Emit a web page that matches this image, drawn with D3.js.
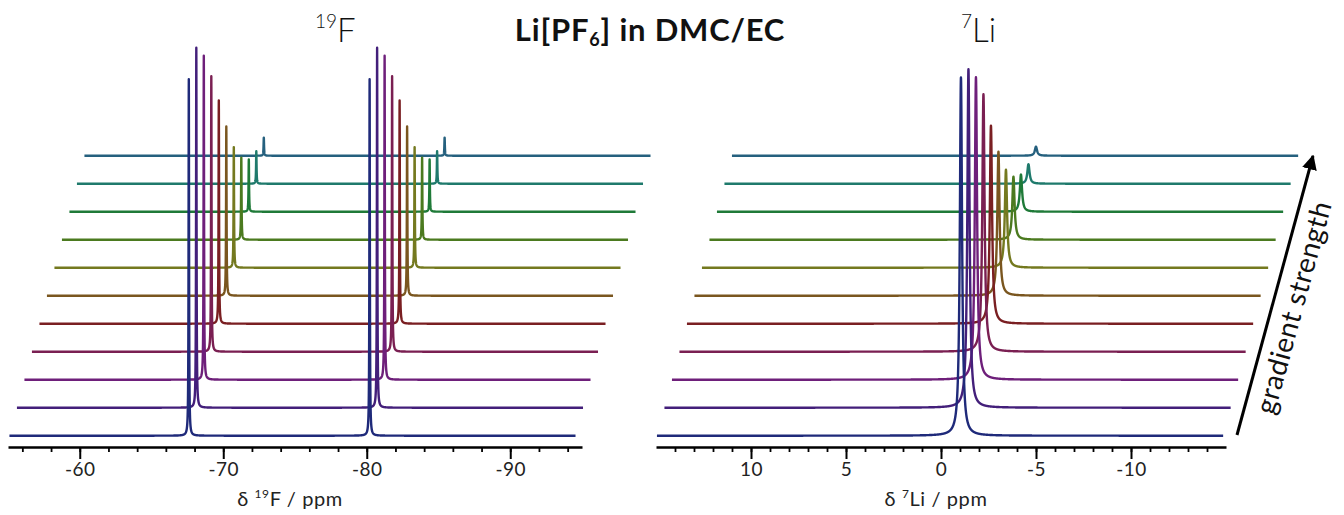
<!DOCTYPE html>
<html>
<head>
<meta charset="utf-8">
<script src="https://cdn.jsdelivr.net/npm/d3@7"></script>
<style>
body{margin:0;background:#fff;}
svg{display:block;font-family:Lato,"Noto Sans",sans-serif;}
</style>
</head>
<body>
<svg id="chart" width="1344" height="515"></svg>
<script>
// one trace per gradient step, weakest gradient at the bottom
const traceColors = ['#1f2a7a', '#431f7a', '#6e1f7a', '#7a1f52', '#7a1f22', '#7a561f',
                     '#74791f', '#4b7a1f', '#1f7a38', '#1f7a6c', '#25607e'];

// 19F: two lines, relative intensity for each gradient step
const fShifts = [-67.6, -80.2];
const fIntensity = [0.99, 1.00, 0.90, 0.765, 0.62, 0.47, 0.335, 0.228, 0.145, 0.09, 0.05];
const fRange = [-55.1, -94.55];
const fMajorTicks = [-60, -70, -80, -90];

// 7Li: one line
const liShifts = [-1.05];
const liIntensity = [0.995, 0.94, 0.84, 0.715, 0.55, 0.40, 0.272, 0.175, 0.103, 0.054, 0.025];
const liRange = [14.95, -14.85];
const liMajorTicks = [10, 5, 0, -5, -10];

const svg = d3.select('#chart');

const dx = 7.5, dy = 28;     // offset between stacked traces
const base = 435.7;          // baseline of the first trace
const axisY = 447;

let y = d3.scaleLinear().domain([0, 1]).range([0, 360]);

// lorentzian line built from the listed shifts and intensities
function spectrum(range, shifts, amp, hw, step){
    let pts = [];
    for(let v = range[0]; v >= range[1]; v -= step){
        let s = 0;
        shifts.forEach(c => { s += amp / (1 + ((v - c) / hw) ** 2); });
        pts.push([v, s]);
    }
    return pts;
}

function drawPanel(opt){
    let x = d3.scaleLinear().domain(opt.domain).range(opt.px);
    let line = d3.line()
                 .x(d => x(d[0]))
                 .y(d => base - y(d[1]));

    let g = svg.append('g');
    // draw top trace first so the lower ones sit on top
    let idx = d3.range(opt.intensity.length).reverse();
    idx.forEach(k => {
        g.append('path')
         .attr('d', line(spectrum(opt.range, opt.shifts, opt.intensity[k], opt.hw, opt.step)))
         .attr('transform', 'translate(' + (k * dx) + ',' + (-k * dy) + ')')
         .attr('fill', 'none')
         .attr('stroke', traceColors[k])
         .attr('stroke-width', 2.4)
         .attr('stroke-linejoin', 'round');
    });

    // minor ticks
    let minor = d3.axisBottom(x)
                  .tickValues(d3.range(opt.minor[0], opt.minor[1] - 0.001, -opt.minor[2]))
                  .tickSize(5)
                  .tickSizeOuter(0)
                  .tickFormat('');
    svg.append('g')
       .attr('transform', 'translate(0,' + axisY + ')')
       .call(minor)
       .call(a => a.select('.domain').attr('stroke-width', 2.6))
       .call(a => a.selectAll('.tick line').attr('stroke-width', 1.8));

    // major ticks with labels
    let major = d3.axisBottom(x)
                  .tickValues(opt.major)
                  .tickSize(12)
                  .tickSizeOuter(0)
                  .tickFormat(d => String(d));
    svg.append('g')
       .attr('transform', 'translate(0,' + axisY + ')')
       .call(major)
       .call(a => a.select('.domain').remove())
       .call(a => a.selectAll('.tick line').attr('stroke-width', 2))
       .call(a => a.selectAll('.tick text')
                   .attr('y', 16)
                   .attr('font-size', 19)
                   .attr('letter-spacing', 0.5)
                   .attr('font-family', 'Lato, sans-serif')
                   .attr('fill', '#222'));

    // axis title
    let t = svg.append('text')
               .attr('x', (opt.px[0] + opt.px[1]) / 2 - 5)
               .attr('y', 506)
               .attr('text-anchor', 'middle')
               .attr('font-size', 20)
               .attr('letter-spacing', 0.6)
               .attr('fill', '#222');
    t.append('tspan').text('δ ');
    t.append('tspan').attr('font-size', 12).attr('dy', -8).text(opt.iso);
    t.append('tspan').attr('dy', 8).text(opt.el + ' / ppm');

    // nucleus label
    let n = svg.append('text')
               .attr('x', opt.labelX)
               .attr('y', 42)
               .attr('font-size', 33)
               .attr('font-weight', 300)
               .attr('fill', '#111');
    n.append('tspan').attr('font-size', 19).attr('dy', -14).text(opt.iso);
    n.append('tspan').attr('dy', 14).text(opt.el);
}

drawPanel({domain: [-55, -95], px: [8, 582], range: fRange, shifts: fShifts,
           intensity: fIntensity, hw: 0.02, step: 0.004,
           minor: [-56, -94, 2], major: fMajorTicks,
           iso: '19', el: 'F', labelX: 315});

drawPanel({domain: [15, -15], px: [656, 1226], range: liRange, shifts: liShifts,
           intensity: liIntensity, hw: 0.07, step: 0.004,
           minor: [14, -14, 1], major: liMajorTicks,
           iso: '7', el: 'Li', labelX: 961});

// title
let title = svg.append('text')
               .attr('x', 650)
               .attr('y', 41)
               .attr('text-anchor', 'middle')
               .attr('font-size', 31)
               .attr('font-weight', 'bold')
               .attr('letter-spacing', 0.8)
               .attr('fill', '#111');
title.append('tspan').text('Li[PF');
title.append('tspan').attr('font-size', 18).attr('dy', 5).text('6');
title.append('tspan').attr('dy', -5).text('] in DMC/EC');

// gradient arrow
svg.append('defs').append('marker')
   .attr('id', 'head')
   .attr('viewBox', '0 0 10 10')
   .attr('refX', 9).attr('refY', 5)
   .attr('markerWidth', 5).attr('markerHeight', 5)
   .attr('orient', 'auto')
   .append('path')
   .attr('d', 'M0,0L10,5L0,10Z')
   .attr('fill', '#000');

svg.append('line')
   .attr('x1', 1237).attr('y1', 435)
   .attr('x2', 1313).attr('y2', 156)
   .attr('stroke', '#000')
   .attr('stroke-width', 3)
   .attr('marker-end', 'url(#head)');

svg.append('text')
   .attr('transform', 'translate(1303,310) rotate(-74.7)')
   .attr('text-anchor', 'middle')
   .attr('font-size', 28)
   .attr('letter-spacing', 0.5)
   .attr('fill', '#111')
   .text('gradient strength');
</script>
</body>
</html>
